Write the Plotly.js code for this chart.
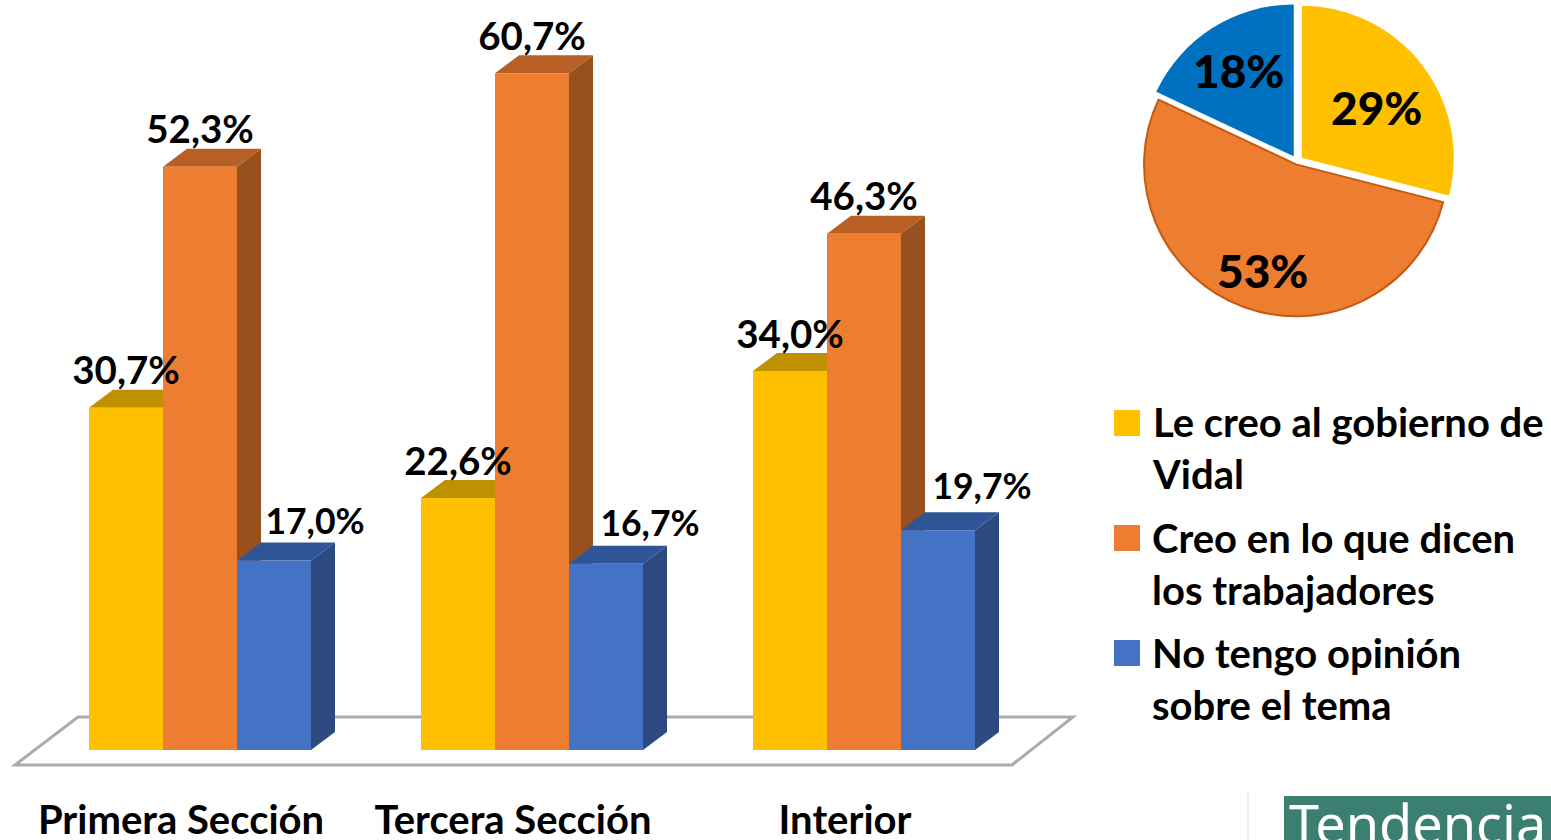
<!DOCTYPE html>
<html><head><meta charset="utf-8">
<script src="https://cdn.plot.ly/plotly-3.0.1.min.js"></script>
<style>html,body{margin:0;padding:0;background:#fff;overflow:hidden}#c{width:1551px;height:840px}</style>
</head><body><div id="c"></div>
<script>
const categories = ["Primera Sección","Tercera Sección","Interior"];
const seriesNames = ["Le creo al gobierno de<br>Vidal","Creo en lo que dicen<br>los trabajadores","No tengo opinión<br>sobre el tema"];
const gobierno = [30.7,22.6,34.0];
const trabajadores = [52.3,60.7,46.3];
const sinOpinion = [17.0,16.7,19.7];
const pieValues = [29,53,18];
const pieLabels = ["Le creo al gobierno de Vidal","Creo en lo que dicen los trabajadores","No tengo opinión sobre el tema"];
const frontColors = ["#FFC000","#ED7D31","#4472C4"];
const topColors = ["#BF9000","#B85F24","#2F5597"];
const sideColors = ["#BF9000","#97501E","#2C4A80"];
const pieColors = ["#FFC000","#ED7D31","#0070C0"];
const FONT = "Lato, Carlito, sans-serif";

const W=1551,H=840, X0=200, XU=332, Y0=750, YU=11.15;
const px=x=>x/W, py=y=>1-y/H;
const dx=x=>(x-X0)/XU, dy=y=>(Y0-y)/YU;
const barW=74/XU, depthX=24/XU, depthY=18/YU;
const series=[gobierno,trabajadores,sinOpinion];
const fmt=v=>v.toFixed(1).replace(".",",")+"%";

const xs=categories.map((_,i)=>i);
const traces=series.map((vals,s)=>({type:"bar",x:xs,y:vals,name:pieLabels[s],
  marker:{color:frontColors[s],line:{width:0}},hoverinfo:"x+y",showlegend:false}));

const shapes=[];
shapes.push({type:"path",xref:"x",yref:"y",layer:"below",
  path:`M${dx(15)},${dy(765)}L${dx(78)},${dy(717)}L${dx(1073)},${dy(717)}L${dx(1012)},${dy(765)}Z`,
  fillcolor:"#fff",line:{color:"#ABABAB",width:3}});
series.forEach((vals,s)=>vals.forEach((v,i)=>{
  const l=i+(s-1.5)*barW, r=l+barW;
  shapes.push({type:"path",xref:"x",yref:"y",layer:"below",line:{width:0},fillcolor:sideColors[s],
    path:`M${r},0L${r+depthX},${depthY}L${r+depthX},${v+depthY}L${r},${v}Z`});
  shapes.push({type:"path",xref:"x",yref:"y",layer:"below",line:{width:0},fillcolor:topColors[s],
    path:`M${l},${v}L${l+depthX},${v+depthY}L${r+depthX},${v+depthY}L${r},${v}Z`});
}));
[423,538,653].forEach((c,i)=>shapes.push({type:"rect",xref:"paper",yref:"paper",line:{width:0},fillcolor:frontColors[i],
  x0:px(1114),x1:px(1140),y0:py(c+13),y1:py(c-13)}));
shapes.push({type:"rect",xref:"paper",yref:"paper",line:{width:0},fillcolor:"#3B7F72",x0:px(1284),x1:px(1551),y0:0,y1:py(796)});
shapes.push({type:"line",xref:"paper",yref:"paper",line:{width:2,color:"#F0F0F0"},x0:px(1248),x1:px(1248),y0:0,y1:py(792)});

const thirdX=[41,44,44], thirdY=[35,37,40];
series.forEach((vals,s)=>{
  traces.push({type:"scatter",mode:"text",showlegend:false,hoverinfo:"skip",
    x:vals.map((_,i)=>i+(s-1)*barW+(s===2?thirdX[i]/XU:0)),
    y:vals.map((v,i)=>v+(s===2?thirdY[i]:33)/YU),text:vals.map(fmt),
    textposition:"middle center",textfont:{family:FONT,size:s===2?35.5:38.5,color:"#000",weight:700}});
});

const R=158, CX=1297, CY=161.5;
traces.push({type:"pie",values:pieValues,labels:pieLabels,sort:false,direction:"clockwise",rotation:0,
  pull:[0.04,0.02,0.04],textinfo:"none",showlegend:false,hoverinfo:"label+percent",
  domain:{x:[px(CX-R),px(CX+R)],y:[py(CY+R),py(CY-R)]},
  marker:{colors:pieColors,line:{color:["#FFC000","#C55A11","#0070C0"],width:[0,2,0]}}});

const annotations=[];
const pieText=[[1376,108],[1262,271],[1238,70]];
pieValues.forEach((v,i)=>annotations.push({xref:"paper",yref:"paper",x:px(pieText[i][0]),y:py(pieText[i][1]),
  text:v+"%",showarrow:false,xanchor:"center",yanchor:"middle",font:{family:FONT,size:46,color:"#000",weight:900}}));
[448,563.5,679].forEach((c,i)=>annotations.push({xref:"paper",yref:"paper",x:px(1150),y:py(c),text:seriesNames[i],
  showarrow:false,xanchor:"left",yanchor:"middle",align:"left",font:{family:FONT,size:40,color:"#000",weight:700}}));
annotations.push({xref:"paper",yref:"paper",x:px(1287),y:py(823),text:"Tendencia",showarrow:false,xanchor:"left",yanchor:"middle",
  font:{family:"'Noto Sans',sans-serif",size:54,color:"#fff"}});

const layout={width:W,height:H,margin:{l:0,r:0,t:0,b:0},paper_bgcolor:"#fff",plot_bgcolor:"rgba(0,0,0,0)",
  showlegend:false,barmode:"group",bargap:1-3*barW,bargroupgap:0,
  xaxis:{range:[dx(0),dx(W)],tickmode:"array",tickvals:xs.map(i=>i-19/XU),ticktext:categories,ticklabelposition:"inside",ticklabelstandoff:-5,
    showgrid:false,zeroline:false,showline:false,ticks:"",tickfont:{family:FONT,size:40,color:"#000",weight:700},fixedrange:true},
  yaxis:{range:[dy(H),dy(0)],visible:false,showgrid:false,zeroline:false,fixedrange:true},
  shapes,annotations};
Plotly.newPlot("c",traces,layout,{displayModeBar:false,responsive:false});
</script></body></html>
